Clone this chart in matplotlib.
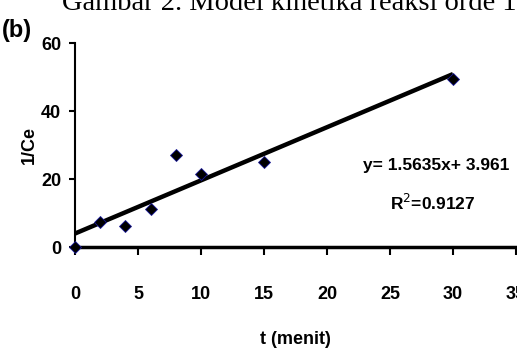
import matplotlib
matplotlib.use("Agg")
import matplotlib.pyplot as plt
import numpy as np

t_values = [0, 2, 4, 6, 8, 10, 15, 30]
inv_ce = [0, 7.4, 6.2, 11.2, 27, 21.5, 25, 49.3]
slope = 1.5635
intercept = 3.961
x_ticks = [0, 5, 10, 15, 20, 25, 30, 35]
y_ticks = [0, 20, 40, 60]

fam = ['Liberation Sans Narrow', 'DejaVu Sans Condensed', 'Liberation Sans', 'DejaVu Sans']

fig = plt.figure(figsize=(5.17, 3.51), dpi=100)
ax = fig.add_axes([75/517, 104/351, 441/517, 204/351])

fit_x = np.array([t_values[0], t_values[-1]])
ax.plot(fit_x, slope * fit_x + intercept, color='black', lw=3.2, solid_capstyle='butt', zorder=2)
ax.plot(t_values, inv_ce, linestyle='none', marker='D', markersize=6,
        markerfacecolor='black', markeredgecolor='#1a1a9a', markeredgewidth=0.6,
        clip_on=False, zorder=3)

ax.set_xlim(0, 35)
ax.set_ylim(0, 60)
ax.set_xticks(x_ticks)
ax.set_yticks(y_ticks)
ax.set_xticklabels([str(v) for v in x_ticks], family=fam, fontweight='bold', fontsize=13)
ax.set_yticklabels([str(v) for v in y_ticks], family=fam, fontweight='bold', fontsize=13)
ax.tick_params(axis='x', direction='out', length=6, width=1.5, pad=22)
ax.tick_params(axis='y', direction='out', length=4, width=1.5, pad=6)
for s in ['top', 'right']:
    ax.spines[s].set_visible(False)
ax.spines['left'].set_linewidth(1.5)
ax.spines['bottom'].set_linewidth(2.5)

ax.set_xlabel('t (menit)', family=fam, fontweight='bold', fontsize=13, labelpad=20)
ax.set_ylabel('1/Ce', family=fam, fontweight='bold', fontsize=13, labelpad=2)

ax.text(28.7, 24, 'y= 1.5635x+ 3.961', family=fam, fontweight='bold', fontsize=12.5,
        ha='center', va='center')
ax.text(28.4, 13, 'R$^{2}$=0.9127', family=fam, fontweight='bold', fontsize=12.5,
        ha='center', va='center')

fig.text(2/517, 1 - 30/351, '(b)', family=fam, fontweight='bold', fontsize=17,
         ha='left', va='center')
fig.text(0.56, 1 - 10/351, 'Gambar 2. Model kinetika reaksi orde 1',
         family=['Liberation Serif', 'DejaVu Serif'], fontsize=20.5,
         ha='center', va='baseline')

fig.savefig('out.png', dpi=100)
